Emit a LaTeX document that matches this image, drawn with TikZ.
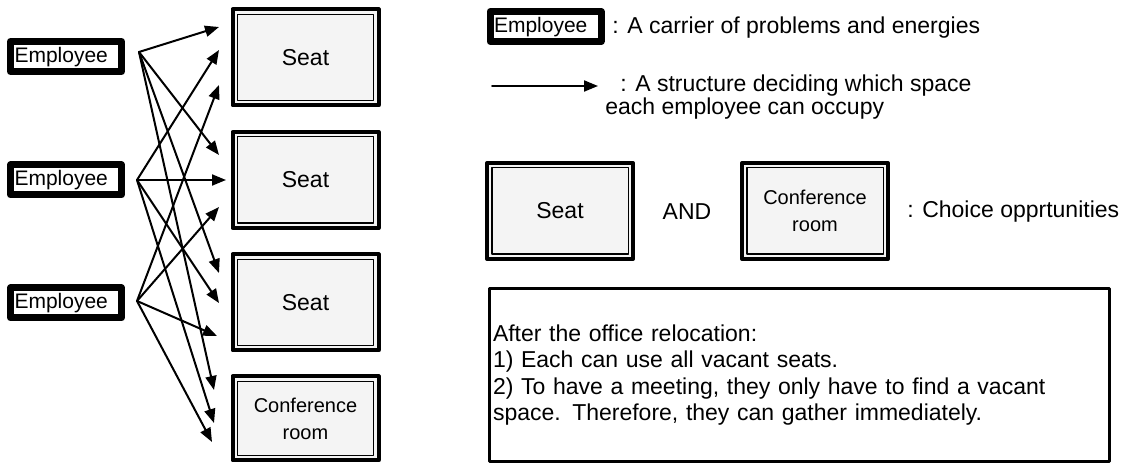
\documentclass[tikz,border=0pt]{standalone}
\usepackage{fontspec}
\setmainfont{Liberation Sans}
\usetikzlibrary{arrows.meta,calc}

\tikzset{
  empbox/.style={draw, line width=3.5pt, fill=white, text width=51.5pt,
    inner xsep=2pt, inner ysep=0pt, minimum height=15pt, align=left,
    text height=8pt, text depth=2pt, font=\fontsize{10.5}{12}\selectfont},
  spacebox/.style={draw, line width=2pt, fill=gray!9, minimum width=73pt,
    minimum height=48pt, align=center, font=\fontsize{11.5}{13.5}\selectfont,
    path picture={\draw[line width=0.7pt]
      ([shift={(2.4pt,2.4pt)}]path picture bounding box.south west) rectangle
      ([shift={(-2.4pt,-2.4pt)}]path picture bounding box.north east);}},
  roombox/.style={spacebox, font=\fontsize{10}{13.5}\selectfont},
  flow/.style={-{Triangle[length=7pt,width=5.5pt]}, line width=1pt},
  keytext/.style={inner sep=0pt, anchor=west, font=\fontsize{11.5}{11.5}\selectfont},
  notebox/.style={draw, line width=1.5pt, text width=306.5pt, inner xsep=1.75pt,
    minimum height=86.5pt, align=left, font=\fontsize{11.5}{13.25}\selectfont}
}

\begin{document}
\begin{tikzpicture}[x=0.5pt, y=-0.5pt, line cap=round, line join=round]
  \useasboundingbox (0,0) rectangle (1125,464);

  \node[empbox] (emp1) at (66,56.5) {Employee};
  \node[empbox] (emp2) at (66,180) {Employee};
  \node[empbox] (emp3) at (66,303) {Employee};

  \node[spacebox] (seat1) at (305.5,57.5) {Seat};
  \node[spacebox] (seat2) at (305.5,180) {Seat};
  \node[spacebox] (seat3) at (305.5,302.5) {Seat};
  \node[roombox, minimum height=42pt] (room) at (305.5,418.5) {Conference\\room};

  \coordinate (src1) at (139,52);
  \coordinate (src2) at (137,180);
  \coordinate (src3) at (137,301);

  \draw[flow] (src1) -- ($(seat1.west)+(-11.5,-30.5)$);
  \draw[flow] (src1) -- ($(seat2.west)+(-11.5,-25)$);
  \draw[flow] (src1) -- ($(seat3.west)+(-11.5,-29.5)$);
  \draw[flow] (src1) -- ($(room.west)+(-16.5,-28.5)$);

  \draw[flow] (src2) -- ($(seat1.west)+(-11.5,-7.5)$);
  \draw[flow] (src2) -- ($(seat2.west)+(-4.5,0)$);
  \draw[flow] (src2) -- ($(seat3.west)+(-11.5,0.5)$);
  \draw[flow] (src2) -- ($(room.west)+(-16.5,4.5)$);

  \draw[flow] (src3) -- ($(seat1.west)+(-11.5,27.5)$);
  \draw[flow] (src3) -- ($(seat2.west)+(-11.5,27)$);
  \draw[flow] (src3) -- ($(seat3.west)+(-13.5,33.5)$);
  \draw[flow] (src3) -- ($(room.west)+(-18.5,23.5)$);

  \node[empbox] (keyemp) at (545.5,26.5) {Employee};
  \node[keytext] (keyemptxt) at (612,28) {: A carrier of problems and energies};

  \coordinate (keyA) at (492,86);
  \coordinate (keyB) at (598,86);
  \draw[flow] (keyA) -- (keyB);
  \node[keytext, align=left] (keyflowtxt) at (605,97)
    {\hspace*{7.5pt}: A structure deciding which space\\each employee can occupy};

  \node[spacebox] (keyseat) at (560,211) {Seat};
  \node[keytext, anchor=center] (keyand) at (687,212) {AND};
  \node[roombox] (keyroom) at (815,211) {Conference\\room};
  \node[keytext] (keychoice) at (907,212) {: Choice opprtunities};

  \node[notebox] (note) at (799.5,375) {After the office relocation:\\
    1) Each can use all vacant seats.\\
    2) To have a meeting, they only have to find a vacant\\
    space. Therefore, they can gather immediately.};
\end{tikzpicture}
\end{document}
